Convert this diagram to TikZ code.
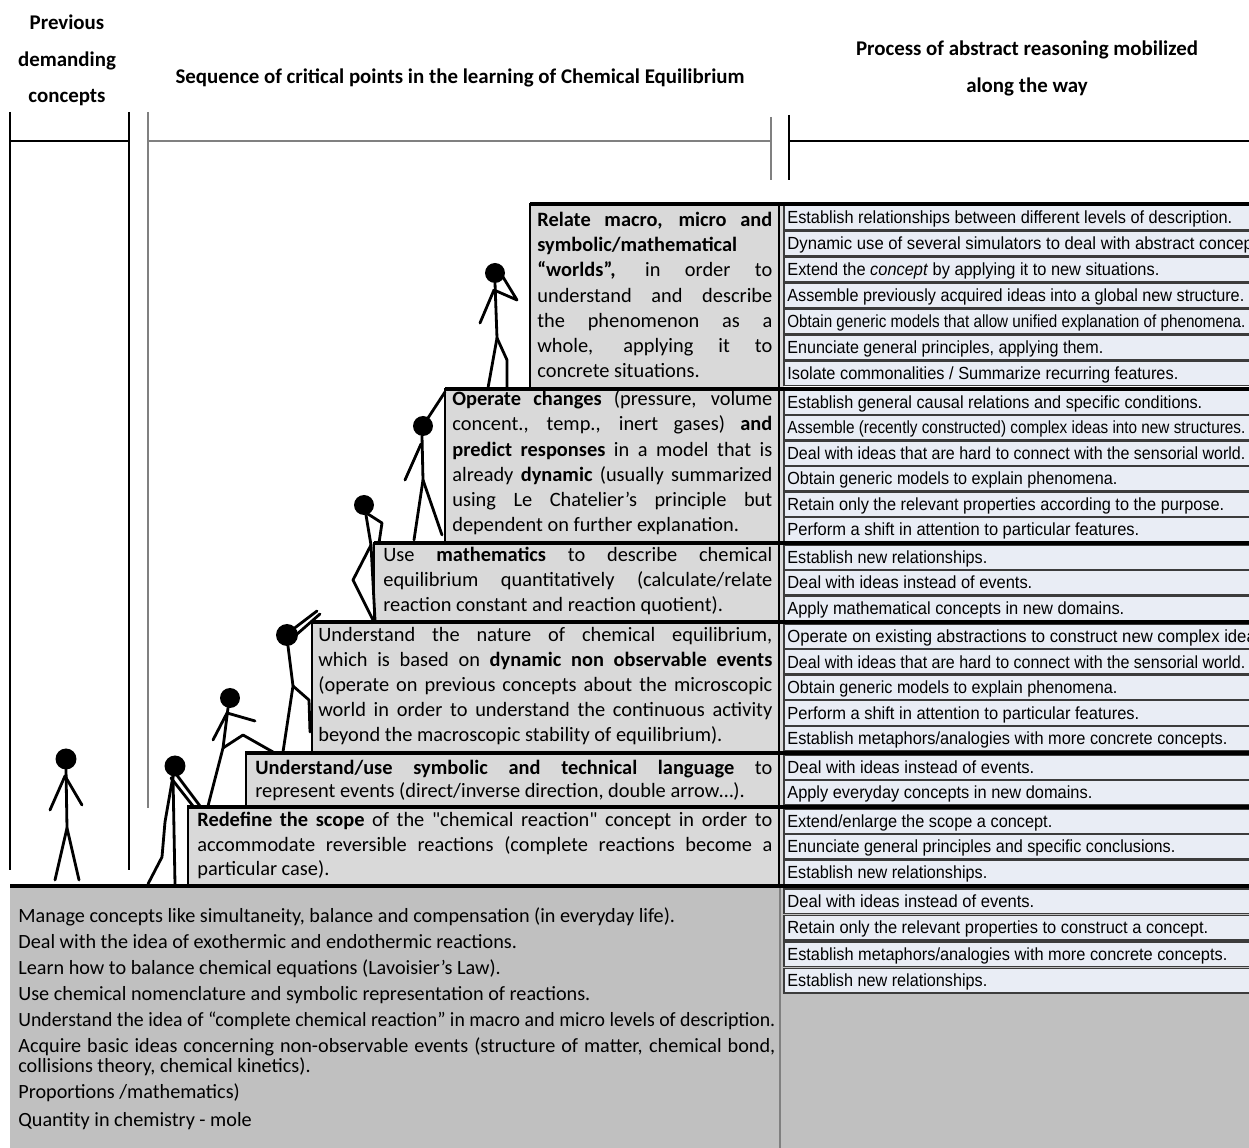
\documentclass[tikz,border=0pt]{standalone}
\usepackage{fontspec}
\usepackage{graphicx}
\setmainfont{Carlito}
\newfontfamily\plainq{Carlito}
\newfontfamily\rowfont{Liberation Sans}
\newlength\pxu
\setlength\pxu{0.02cm}
\definecolor{stepgray}{HTML}{D9D9D9}
\definecolor{basegray}{HTML}{C0C0C0}
\definecolor{rowfill}{HTML}{E9EDF5}
\definecolor{rowline}{HTML}{3C3C3C}
\definecolor{rulegray}{HTML}{808080}
% straight double quote
\newcommand\sq{{\plainq"}}
% justified line of a step box
\newcommand\jl[2]{\makebox[#1\pxu][s]{#2}}
% one row of the right-hand column: name, top, text width, text
\newcommand\rrow[4]{%
  \draw[rowbox] (784,#2) rectangle (1262,#2+24.5);
  \node[rtxt] (#1) at (787,#2+18.5) {\resizebox{#3\pxu}{\height}{#4}};}
\newcommand\rrowcut[3]{%
  \draw[rowbox] (784,#2) rectangle (1262,#2+24.5);
  \node[rtxt] (#1) at (787,#2+18.5) {\scalebox{0.95}[1]{#3}};}
\begin{document}
\begin{tikzpicture}[x=0.02cm,y=-0.02cm,
  htxt/.style={font=\bfseries\fontsize{11.9}{14}\selectfont,inner sep=0pt},
  stxt/.style={font=\fontsize{11.6}{14}\selectfont,anchor=base west,inner sep=0pt},
  btxt/.style={font=\fontsize{11.5}{13}\selectfont,anchor=base west,inner sep=0pt},
  rtxt/.style={font=\rowfont\fontsize{10}{12}\selectfont,anchor=base west,inner sep=0pt},
  rowbox/.style={fill=rowfill,draw=rowline,line width=0.7pt},
  stepbox/.style={fill=stepgray,draw=black,line width=1.3pt},
  sep/.style={draw=black,line width=2pt},
  stick/.style={draw=black,line width=1.6pt,line cap=round,line join=round},
  headrule/.style={draw=black,line width=0.8pt},
  midrule/.style={draw=rulegray,line width=1.2pt}]
\useasboundingbox (0,0) rectangle (1249,1148);

% ---- headings ----
\node[htxt] (hprev1) at (67,22) {Previous};
\node[htxt] (hprev2) at (67,61) {demanding};
\node[htxt] (hprev3) at (67,98) {concepts};
\node[htxt] (hseq) at (460,78) {Sequence of critical points in the learning of Chemical Equilibrium};
\node[htxt] (hproc1) at (1027,50) {Process of abstract reasoning mobilized};
\node[htxt] (hproc2) at (1027,87) {along the way};

% ---- column brackets ----
\draw[headrule] (10,112) -- (10,870);
\draw[headrule] (129,112) -- (129,870);
\draw[headrule] (10,141) -- (129,141);
\draw[midrule] (148,112) -- (148,808);
\draw[midrule] (148,141) -- (771,141);
\draw[midrule] (771,117) -- (771,180);
\draw[headrule] (789,115) -- (789,180);
\draw[headrule] (789,141) -- (1249,141);

% ---- base block ----
\fill[basegray] (10,886) rectangle (1249,1148);
\draw[draw=gray,line width=0.6pt] (780,886) -- (780,1148);

% ---- steps ----
\fill[stepgray] (779,204) rectangle (784,886);
\draw[stepbox] (530,204) rectangle (779,388);
\draw[stepbox] (445,389) rectangle (779,543);
\draw[stepbox] (374,543) rectangle (779,622);
\draw[stepbox] (312,622) rectangle (779,752);
\draw[stepbox] (246,752) rectangle (779,806);
\draw[stepbox] (188,806) rectangle (779,885);

% ---- right column rows ----
\rrow{r1}{205}{445}{Establish relationships between different levels of description.}
\rrowcut{r2}{231}{Dynamic use of several simulators to deal with abstract concepts.}
\rrow{r3}{257}{372}{Extend the \textit{concept} by applying it to new situations.}
\rrow{r4}{283}{457}{Assemble previously acquired ideas into a global new structure.}
\rrow{r5}{309}{458}{Obtain generic models that allow unified explanation of phenomena.}
\rrow{r6}{335}{316}{Enunciate general principles, applying them.}
\rrow{r7}{361}{391}{Isolate commonalities / Summarize recurring features.}

\rrow{r8}{390}{415}{Establish general causal relations and specific conditions.}
\rrow{r9}{415.5}{458}{Assemble (recently constructed) complex ideas into new structures.}
\rrow{r10}{441}{458}{Deal with ideas that are hard to connect with the sensorial world.}
\rrow{r11}{466.5}{330}{Obtain generic models to explain phenomena.}
\rrow{r12}{492}{437}{Retain only the relevant properties according to the purpose.}
\rrow{r13}{517.5}{352}{Perform a shift in attention to particular features.}

\rrow{r14}{545}{200}{Establish new relationships.}
\rrow{r15}{570.5}{245}{Deal with ideas instead of events.}
\rrow{r16}{596}{337}{Apply mathematical concepts in new domains.}

\rrowcut{r17}{624}{Operate on existing abstractions to construct new complex ideas.}
\rrow{r18}{649.6}{458}{Deal with ideas that are hard to connect with the sensorial world.}
\rrow{r19}{675.2}{330}{Obtain generic models to explain phenomena.}
\rrow{r20}{700.8}{352}{Perform a shift in attention to particular features.}
\rrow{r21}{726.4}{440}{Establish metaphors/analogies with more concrete concepts.}

\rrow{r22}{755}{247}{Deal with ideas instead of events.}
\rrow{r23}{780.5}{305}{Apply everyday concepts in new domains.}

\rrow{r24}{809}{265}{Extend/enlarge the scope a concept.}
\rrow{r25}{834.5}{388}{Enunciate general principles and specific conclusions.}
\rrow{r26}{860}{200}{Establish new relationships.}

\rrow{r27}{889}{247}{Deal with ideas instead of events.}
\rrow{r28}{915.5}{421}{Retain only the relevant properties to construct a concept.}
\rrow{r29}{942}{440}{Establish metaphors/analogies with more concrete concepts.}
\rrow{r30}{968.5}{200}{Establish new relationships.}

% ---- level rules ----
\draw[sep] (530,204) -- (1249,204);
\draw[sep] (445,389) -- (1249,389);
\draw[sep] (374,543) -- (1249,543);
\draw[sep] (312,622) -- (1249,622);
\draw[sep] (246,753) -- (1249,753);
\draw[sep] (188,807) -- (1249,807);
\draw[black,line width=2.5pt] (10,886) -- (1249,886);

% ---- step texts ----
\node[stxt] (s6a) at (537,227) {\jl{235}{\textbf{Relate macro, micro and}}};
\node[stxt] (s6b) at (537,252) {\textbf{symbolic/mathematical}};
\node[stxt] (s6c) at (537,277) {\jl{235}{\textbf{“worlds”,} in order to}};
\node[stxt] (s6d) at (537,303) {\jl{235}{understand and describe}};
\node[stxt] (s6e) at (537,328) {\jl{235}{the phenomenon as a}};
\node[stxt] (s6f) at (537,353) {\jl{235}{whole, applying it to}};
\node[stxt] (s6g) at (537,378) {concrete situations.};

\node[stxt] (s5a) at (452,406) {\jl{320}{\textbf{Operate changes} (pressure, volume}};
\node[stxt] (s5b) at (452,431) {\jl{320}{concent., temp., inert gases) \textbf{and}}};
\node[stxt] (s5c) at (452,457) {\jl{320}{\textbf{predict responses} in a model that is}};
\node[stxt] (s5d) at (452,482) {\jl{320}{already \textbf{dynamic} (usually summarized}};
\node[stxt] (s5e) at (452,507) {\jl{320}{using Le Chatelier’s principle but}};
\node[stxt] (s5f) at (452,532) {dependent on further explanation.};

\node[stxt] (s4a) at (383,562) {\jl{389}{Use \textbf{mathematics} to describe chemical}};
\node[stxt] (s4b) at (383,587) {\jl{389}{equilibrium quantitatively (calculate/relate}};
\node[stxt] (s4c) at (383,612) {reaction constant and reaction quotient).};

\node[stxt] (s3a) at (318,642) {\jl{454}{Understand the nature of chemical equilibrium,}};
\node[stxt] (s3b) at (318,667) {\jl{454}{which is based on \textbf{dynamic non observable events}}};
\node[stxt] (s3c) at (318,692) {\jl{454}{(operate on previous concepts about the microscopic}};
\node[stxt] (s3d) at (318,717) {\jl{454}{world in order to understand the continuous activity}};
\node[stxt] (s3e) at (318,742) {beyond the macroscopic stability of equilibrium).};

\node[stxt] (s2a) at (255,775) {\jl{517}{\textbf{Understand/use symbolic and technical language} to}};
\node[stxt] (s2b) at (255,798) {represent events (direct/inverse direction, double arrow…).};

\node[stxt] (s1a) at (197,827) {\jl{575}{\textbf{Redefine the scope} of the \sq chemical reaction\sq{} concept in order to}};
\node[stxt] (s1b) at (197,852) {\jl{575}{accommodate reversible reactions (complete reactions become a}};
\node[stxt] (s1c) at (197,876) {particular case).};

% ---- base texts ----
\node[btxt] (b1) at (18,923) {Manage concepts like simultaneity, balance and compensation (in everyday life).};
\node[btxt] (b2) at (18,949) {Deal with the idea of exothermic and endothermic reactions.};
\node[btxt] (b3) at (18,975) {Learn how to balance chemical equations (Lavoisier’s Law).};
\node[btxt] (b4) at (18,1001) {Use chemical nomenclature and symbolic representation of reactions.};
\node[btxt] (b5) at (18,1027) {\resizebox{757\pxu}{\height}{Understand the idea of “complete chemical reaction” in macro and micro levels of description.}};
\node[btxt] (b6) at (18,1053) {\jl{757}{Acquire basic ideas concerning non-observable events (structure of matter, chemical bond,}};
\node[btxt] (b7) at (18,1072) {collisions theory, chemical kinetics).};
\node[btxt] (b8) at (18,1099) {Proportions /mathematics)};
\node[btxt] (b9) at (18,1127) {Quantity in chemistry - mole};

% ---- climbers ----
% standing at the start
\fill (66,759) circle[radius=0.21cm];
\draw[stick] (66,769) -- (67,828);
\draw[stick] (55,880) -- (67,828) -- (79,880);
\draw[stick] (50,810) -- (65,776) -- (82,805);
% leaning on the first step
\fill (175,766) circle[radius=0.21cm];
\draw[stick] (173,776) -- (165,822) -- (162,857) -- (148,884);
\draw[stick] (173,776) -- (175,884);
\draw[stick] (176,774) -- (200,806);
\draw[stick] (171,778) -- (193,806);
% stepping up to the second step
\fill (230,698) circle[radius=0.2cm];
\draw[stick] (228,708) -- (223,748) -- (208,806);
\draw[stick] (223,748) -- (243,735) -- (273,752);
\draw[stick] (213,740) -- (227,713) -- (255,721);
% reaching for the third step
\fill (287,635) circle[radius=0.22cm];
\draw[stick] (292,630) -- (317,611);
\draw[stick] (296,635) -- (320,614);
\draw[stick] (288,646) -- (293,686) -- (283,752);
\draw[stick] (293,686) -- (309,700) -- (310,732);
% climbing onto the fourth step
\fill (364,505) circle[radius=0.2cm];
\draw[stick] (366,515) -- (371,545);
\draw[stick] (368,514) -- (382,523) -- (379,543);
\draw[stick] (371,545) -- (353,580) -- (373,620);
\draw[stick] (371,545) -- (375,620);
% reaching for the fifth step
\fill (423,426) circle[radius=0.2cm];
\draw[stick] (428,418) -- (445,392);
\draw[stick] (422,436) -- (423,480);
\draw[stick] (421,444) -- (405,480);
\draw[stick] (423,480) -- (414,540);
\draw[stick] (423,480) -- (442,535);
% thinking at the top
\fill (495,273) circle[radius=0.2cm];
\draw[stick] (495,283) -- (497,338);
\draw[stick] (494,290) -- (517,300) -- (503,277);
\draw[stick] (494,290) -- (480,323);
\draw[stick] (497,338) -- (488,388);
\draw[stick] (497,338) -- (507,360) -- (507,388);
\end{tikzpicture}
\end{document}
